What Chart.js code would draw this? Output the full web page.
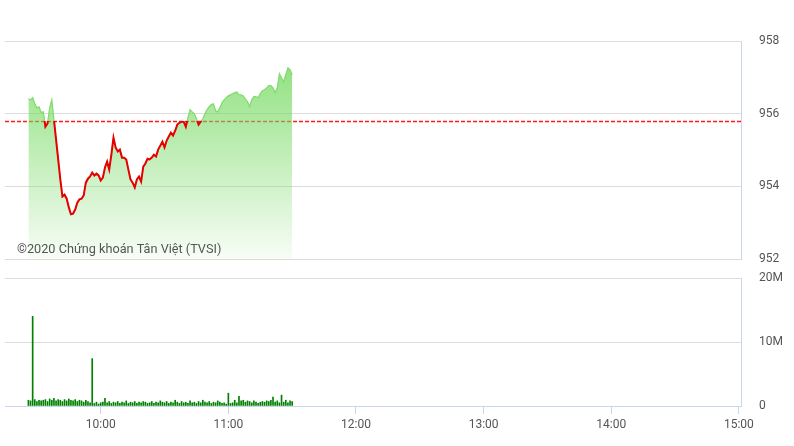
<!DOCTYPE html>
<html>
<head>
<meta charset="utf-8">
<script src="https://cdn.jsdelivr.net/npm/chart.js@4"></script>
<style>
  html, body { margin: 0; padding: 0; background: #fff; }
  #wrap { position: relative; width: 794px; height: 446px; }
  .box { position: absolute; left: 0; width: 794px; }
</style>
</head>
<body>
<div id="wrap">
  <div class="box" style="top:0;height:270px"><canvas id="price-graph"></canvas></div>
  <div class="box" style="top:270px;height:176px"><canvas id="volume-graph"></canvas></div>
</div>
<script>
// * Data
const times = [
  "9:26","9:27","9:28","9:29","9:30","9:31","9:32","9:33","9:34","9:35","9:36","9:37","9:38","9:39","9:40","9:41","9:42",
  "9:43","9:44","9:45","9:46","9:47","9:48","9:49","9:50","9:51","9:52","9:53","9:54","9:55","9:56","9:57","9:58","9:59",
  "10:00","10:01","10:02","10:03","10:04","10:05","10:06","10:07","10:08","10:09","10:10","10:11","10:12","10:13","10:14",
  "10:15","10:16","10:17","10:18","10:19","10:20","10:21","10:22","10:23","10:24","10:25","10:26","10:27","10:28","10:29",
  "10:30","10:31","10:32","10:33","10:34","10:35","10:36","10:37","10:38","10:39","10:40","10:41","10:42","10:43","10:44",
  "10:45","10:46","10:47","10:48","10:49","10:50","10:51","10:52","10:53","10:54","10:55","10:56","10:57","10:58","10:59",
  "11:00","11:01","11:02","11:03","11:04","11:05","11:06","11:07","11:08","11:09","11:10","11:11","11:12","11:13","11:14",
  "11:15","11:16","11:17","11:18","11:19","11:20","11:21","11:22","11:23","11:24","11:25","11:26","11:27","11:28","11:29","11:30"
];

const prices = [
  956.41, 956.38, 956.44, 956.27, 956.16, 956.19, 956.03, 956.05, 955.64, 955.73,
  956.16, 956.38, 955.84, 955.29, 954.74, 954.19, 953.72, 953.77, 953.66, 953.42,
  953.23, 953.25, 953.36, 953.55, 953.64, 953.66, 953.75, 954.10, 954.21, 954.27,
  954.38, 954.30, 954.35, 954.30, 954.16, 954.24, 954.52, 954.68, 954.46, 954.87,
  955.34, 955.07, 954.96, 955.01, 954.79, 954.79, 954.74, 954.46, 954.19, 954.10,
  953.97, 954.19, 954.27, 954.13, 954.54, 954.63, 954.76, 954.74, 954.79, 954.87,
  954.82, 955.01, 955.12, 955.23, 955.07, 955.26, 955.37, 955.48, 955.40, 955.53,
  955.70, 955.75, 955.78, 955.78, 955.64, 955.89, 956.11, 956.05, 956.00, 955.86,
  955.70, 955.78, 955.86, 956.00, 956.11, 956.19, 956.25, 956.27, 956.08, 956.05,
  956.16, 956.30, 956.38, 956.44, 956.49, 956.52, 956.55, 956.58, 956.60, 956.52,
  956.52, 956.49, 956.41, 956.33, 956.19, 956.38, 956.47, 956.47, 956.44, 956.55,
  956.63, 956.66, 956.71, 956.77, 956.77, 956.71, 956.58, 956.71, 957.10, 956.99,
  956.88, 957.07, 957.26, 957.21, 957.07
];

// volume in millions
const volumes = [
  0.9, 0.8, 14.0, 1.0, 0.7, 0.9, 0.8, 0.9, 1.0, 0.7,
  1.1, 0.9, 1.2, 0.8, 1.0, 0.9, 0.7, 1.0, 0.8, 1.1,
  0.9, 0.8, 1.0, 0.7, 0.9, 0.8, 0.6, 0.9, 0.7, 0.5,
  7.4, 0.4, 0.6, 0.3, 0.5, 0.6, 1.2, 0.5, 0.7, 0.4,
  0.6, 0.5, 0.7, 0.4, 0.6, 0.5, 0.8, 0.4, 0.6, 0.5,
  0.7, 0.4, 0.6, 0.5, 0.7, 0.6, 0.4, 0.5, 0.7, 0.4,
  0.6, 0.5, 0.8, 0.6, 0.5, 0.7, 0.4, 0.6, 0.5, 0.9,
  0.6, 0.4, 0.7, 0.5, 0.6, 0.4, 0.8, 0.5, 0.6, 0.4,
  0.7, 0.5, 0.9, 0.6, 0.5, 0.7, 0.4, 0.6, 0.5, 0.8,
  0.6, 0.4, 0.5, 0.3, 2.0, 0.4, 0.5, 0.9, 0.5, 1.5,
  0.8, 0.9, 0.6, 0.8, 0.7, 0.5, 0.8, 0.6, 0.4, 0.6,
  0.7, 0.6, 0.8, 0.7, 0.9, 1.4, 0.6, 0.8, 0.5, 1.7,
  0.6, 0.9, 0.5, 0.8, 0.7
];

const refPrice = 955.79;
const priceTicks = [952, 954, 956, 958];
const volumeTicks = [0, 10, 20];
const timeTicks = ["10:00", "11:00", "12:00", "13:00", "14:00", "15:00"];
const watermark = "©2020 Chứng khoán Tân Việt (TVSI)";

// * Helpers
// minutes since 9:15
const toMin = (t) => {
  const [h, m] = t.split(":").map(Number);
  return (h - 9) * 60 + m - 15;
};
const toLabel = (v) => {
  const total = v + 9 * 60 + 15;
  return Math.floor(total / 60) + ":" + String(total % 60).padStart(2, "0");
};

const xMin = 0;
const xMax = 346;
const lineGreen = "rgb(128,218,108)";
const lineRed = "#e60000";
const textColor = "#555";
const gridColor = "#dcdcdc";
const axisColor = "#ccd6eb";

Chart.defaults.font.family = "Roboto";
Chart.defaults.font.size = 12;
Chart.defaults.color = textColor;

// splits a vertical gradient at the reference price
const splitAtRef = (chart, above, below) => {
  const a = chart.chartArea;
  const yr = chart.scales.y.getPixelForValue(refPrice);
  const s = Math.min(1, Math.max(0, (yr - a.top) / (a.bottom - a.top)));
  const g = chart.ctx.createLinearGradient(0, a.top, 0, a.bottom);
  g.addColorStop(0, above);
  g.addColorStop(s, above);
  g.addColorStop(s, below);
  g.addColorStop(1, below);
  return g;
};

// * Price Chart
const refLine = {
  id: "refLine",
  beforeDatasetsDraw(chart) {
    const { ctx, chartArea, scales } = chart;
    const y = Math.round(scales.y.getPixelForValue(refPrice)) + 0.5;
    ctx.save();
    ctx.strokeStyle = "#ff1a1a";
    ctx.lineWidth = 1.3;
    ctx.setLineDash([4, 2]);
    ctx.beginPath();
    ctx.moveTo(chartArea.left, y);
    ctx.lineTo(chartArea.right, y);
    ctx.stroke();
    ctx.restore();
  },
};

const copyright = {
  id: "copyright",
  afterDatasetsDraw(chart) {
    const { ctx, chartArea } = chart;
    ctx.save();
    ctx.font = "12.7px Roboto";
    ctx.fillStyle = textColor;
    ctx.textBaseline = "middle";
    ctx.fillText(watermark, chartArea.left + 12, chartArea.bottom - 9);
    ctx.restore();
  },
};

const pricePoints = times.map((t, i) => ({ x: toMin(t), y: prices[i] }));

const pg = document.getElementById("price-graph").getContext("2d");

const priceChart = new Chart(pg, {
  type: "line",
  data: {
    datasets: [
      {
        // red part of the line, drawn on top
        data: pricePoints,
        pointRadius: 0,
        tension: 0,
        fill: false,
        borderWidth: 2,
        borderColor: (c) =>
          c.chart.chartArea ? splitAtRef(c.chart, "rgba(0,0,0,0)", lineRed) : lineRed,
      },
      {
        // green area + thin green line
        data: pricePoints,
        pointRadius: 0,
        tension: 0,
        fill: "start",
        borderWidth: 1.2,
        borderColor: lineGreen,
        backgroundColor: (c) => {
          const { chart } = c;
          const a = chart.chartArea;
          if (!a) return "rgba(130,220,110,0.5)";
          const g = chart.ctx.createLinearGradient(0, a.top, 0, a.bottom);
          g.addColorStop(0, "rgba(120,218,100,0.9)");
          g.addColorStop(1, "rgba(120,218,100,0.06)");
          return g;
        },
      },
    ],
  },
  options: {
    responsive: true,
    maintainAspectRatio: false,
    animation: false,
    layout: { padding: { top: 41, bottom: 11, left: 5, right: 0 } },
    plugins: { legend: { display: false }, tooltip: { enabled: false } },
    scales: {
      x: { type: "linear", min: xMin, max: xMax, display: false },
      y: {
        position: "right",
        min: 952,
        max: 958,
        afterBuildTicks: (s) => { s.ticks = priceTicks.map((v) => ({ value: v })); },
        afterFit: (s) => { s.width = 53; },
        ticks: { padding: 0 },
        grid: { color: gridColor, drawTicks: true, tickLength: 18, tickColor: "rgba(0,0,0,0)" },
        border: { color: axisColor },
      },
    },
  },
  plugins: [refLine, copyright],
});

// * Volume Chart
const vg = document.getElementById("volume-graph").getContext("2d");

const volumeChart = new Chart(vg, {
  type: "bar",
  data: {
    datasets: [
      {
        data: times.map((t, i) => ({ x: toMin(t), y: volumes[i] })),
        backgroundColor: "#008000",
        barThickness: 1,
      },
    ],
  },
  options: {
    responsive: true,
    maintainAspectRatio: false,
    animation: false,
    layout: { padding: { top: 8, bottom: 10, left: 5, right: 0 } },
    plugins: { legend: { display: false }, tooltip: { enabled: false } },
    scales: {
      x: {
        type: "linear",
        min: xMin,
        max: xMax,
        offset: false,
        afterBuildTicks: (s) => { s.ticks = timeTicks.map((t) => ({ value: toMin(t) })); },
        afterFit: (s) => { s.height = 30; },
        ticks: { callback: (v) => toLabel(v), padding: 4, maxRotation: 0, autoSkip: false },
        grid: { offset: false, drawOnChartArea: false, drawTicks: true, tickLength: 8, color: axisColor },
        border: { color: axisColor },
      },
      y: {
        position: "right",
        min: 0,
        max: 20,
        afterBuildTicks: (s) => { s.ticks = volumeTicks.map((v) => ({ value: v })); },
        afterFit: (s) => { s.width = 53; },
        ticks: { padding: 0, callback: (v) => (v === 0 ? "0" : v + "M") },
        grid: { color: gridColor, drawTicks: true, tickLength: 18, tickColor: "rgba(0,0,0,0)" },
        border: { color: axisColor },
      },
    },
  },
});
</script>
</body>
</html>
